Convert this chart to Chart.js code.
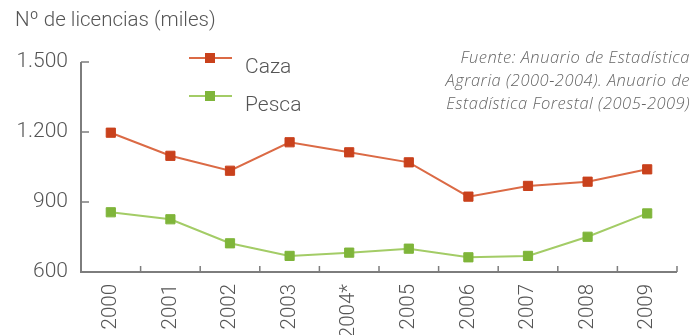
<!DOCTYPE html>
<html>
<head>
<meta charset="utf-8">
<script src="https://cdn.jsdelivr.net/npm/chart.js@4"></script>
<style>
  html, body { margin: 0; padding: 0; background: #fff; }
  #wrap { position: relative; width: 695px; height: 335px; overflow: hidden; }
  #title { position: absolute; left: 15px; top: 7px; font: 300 20.5px Roboto, sans-serif; color: #555; }
  #source { position: absolute; right: 5px; top: 45px; text-align: right;
    font: italic 300 16.5px "Open Sans", sans-serif; letter-spacing: 0.5px; line-height: 23px; color: #666; }
</style>
</head>
<body>
<div id="wrap">
  <canvas id="chart" width="695" height="335"></canvas>
  <div id="title">Nº de licencias (miles)</div>
  <div id="source">Fuente: Anuario de Estadística<br>Agraria (2000-2004). Anuario de<br>Estadística Forestal (2005-2009)</div>
</div>
<script>
const years = ["2000", "2001", "2002", "2003", "2004*", "2005", "2006", "2007", "2008", "2009"];
const caza = [1197, 1098, 1034, 1156, 1113, 1070, 923, 969, 987, 1040];
const pesca = [856, 826, 723, 669, 683, 700, 663, 669, 751, 851];
const yTicks = [600, 900, 1200, 1500];

const axisColor = "#7d7d7d";
const fontFamily = "Roboto, sans-serif";

// axes with ticks pointing inside the plot, plus the small legend
const customDraw = {
  id: "customDraw",
  afterDraw(chart) {
    const ctx = chart.ctx;
    const y = chart.scales.y;
    const a = chart.chartArea;
    ctx.save();
    ctx.strokeStyle = axisColor;
    ctx.lineWidth = 2;
    ctx.beginPath();
    ctx.moveTo(a.left, y.getPixelForValue(1500));
    ctx.lineTo(a.left, a.bottom);
    ctx.lineTo(a.right, a.bottom);
    ctx.stroke();
    ctx.lineWidth = 1.5;
    ctx.beginPath();
    yTicks.forEach(v => {
      const py = y.getPixelForValue(v);
      ctx.moveTo(a.left, py);
      ctx.lineTo(a.left + 8, py);
    });
    for (let i = 0; i <= years.length; i++) {
      const px = a.left + (a.right - a.left) * i / years.length;
      ctx.moveTo(px, a.bottom);
      ctx.lineTo(px, a.bottom - 6);
    }
    ctx.stroke();

    // legend
    chart.data.datasets.forEach((ds, i) => {
      const ly = [58, 96][i];
      const ty = [68, 106][i];
      ctx.strokeStyle = ds.borderColor;
      ctx.lineWidth = 2;
      ctx.beginPath();
      ctx.moveTo(189, ly);
      ctx.lineTo(232, ly);
      ctx.stroke();
      ctx.fillStyle = ds.pointBackgroundColor;
      ctx.fillRect(205, ly - 5, 10, 10);
      ctx.fillStyle = "#555";
      ctx.font = "300 21px " + fontFamily;
      ctx.textBaseline = "middle";
      ctx.textAlign = "left";
      ctx.fillText(ds.label, 245, ty);
    });
    ctx.restore();
  }
};

new Chart(document.getElementById("chart"), {
  type: "line",
  data: {
    labels: years,
    datasets: [
      {
        label: "Caza",
        data: caza,
        borderColor: "#db6a45",
        borderWidth: 2,
        pointBackgroundColor: "#c9411c",
        pointBorderColor: "#c9411c",
        pointBorderWidth: 1,
        pointStyle: "rect",
        pointRadius: 6.5,
        tension: 0
      },
      {
        label: "Pesca",
        data: pesca,
        borderColor: "#a3cc66",
        borderWidth: 2,
        pointBackgroundColor: "#7fb53a",
        pointBorderColor: "#7fb53a",
        pointBorderWidth: 1,
        pointStyle: "rect",
        pointRadius: 6.5,
        tension: 0
      }
    ]
  },
  options: {
    responsive: false,
    animation: false,
    layout: { padding: { top: 62, right: 18, left: 0, bottom: 0 } },
    plugins: { legend: { display: false }, tooltip: { enabled: false } },
    scales: {
      x: {
        offset: true,
        grid: { display: false, drawTicks: false },
        border: { display: false },
        ticks: {
          minRotation: 90, maxRotation: 90, padding: 12,
          color: "#555", font: { family: fontFamily, size: 20.5, weight: 300 }
        },
        afterFit(s) { s.height = 63; }
      },
      y: {
        min: 600, max: 1500,
        afterBuildTicks(s) { s.ticks = yTicks.map(v => ({ value: v })); },
        grid: { display: false, drawTicks: false },
        border: { display: false },
        ticks: {
          padding: 13,
          color: "#555",
          font: { family: fontFamily, size: 21, weight: 300 },
          callback: v => v.toLocaleString("de-DE")
        },
        afterFit(s) { s.width = 81; }
      }
    }
  },
  plugins: [customDraw]
});
</script>
</body>
</html>
